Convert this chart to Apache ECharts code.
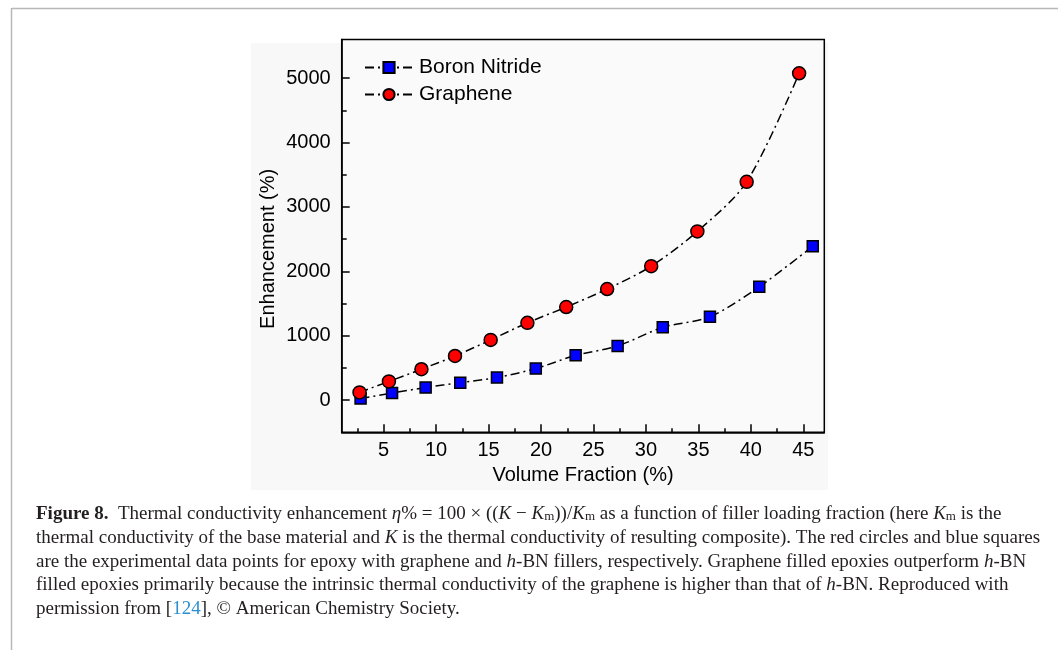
<!DOCTYPE html>
<html>
<head>
<meta charset="utf-8">
<script src="https://cdn.jsdelivr.net/npm/echarts@6.0.0/dist/echarts.min.js"></script>
<style>
  html, body { margin: 0; padding: 0; background: #fff; }
  #chart { width: 1058px; height: 650px; }
</style>
</head>
<body>
<div id="chart"></div>
<script>
// values
const volumeBN = [2.8, 5.8, 9.0, 12.3, 15.8, 19.5, 23.3, 27.3, 31.6, 36.1, 40.8, 45.9];
const enhanceBN = [25, 110, 195, 270, 350, 490, 695, 840, 1130, 1295, 1760, 2390];
const volumeGr = [2.7, 5.5, 8.6, 11.8, 15.2, 18.7, 22.4, 26.3, 30.5, 34.9, 39.6, 44.6];
const enhanceGr = [120, 290, 480, 685, 935, 1200, 1445, 1725, 2080, 2620, 3390, 5075];

const xMajor = [5, 10, 15, 20, 25, 30, 35, 40, 45];
const xMinor = [2.5, 7.5, 12.5, 17.5, 22.5, 27.5, 32.5, 37.5, 42.5];
const yMajor = [0, 1000, 2000, 3000, 4000, 5000];
const yMinor = [500, 1500, 2500, 3500, 4500];

const captionLines = [
  "{b|Figure 8.}  Thermal conductivity enhancement {i|η}% = 100 × (({i|K} − {i|K}{s|m}))/{i|K}{s|m} as a function of filler loading fraction (here {i|K}{s|m} is the",
  "thermal conductivity of the base material and {i|K} is the thermal conductivity of resulting composite). The red circles and blue squares",
  "are the experimental data points for epoxy with graphene and {i|h}-BN fillers, respectively. Graphene filled epoxies outperform {i|h}-BN",
  "filled epoxies primarily because the intrinsic thermal conductivity of the graphene is higher than that of {i|h}-BN. Reproduced with",
  "permission from [{l|124}], © American Chemistry Society.",
];

const sans = "'Liberation Sans', Arial, sans-serif";
const serif = "'Liberation Serif', 'Times New Roman', serif";
const dashDot = [9, 4, 2, 4];
const capSize = 19;

const chart = echarts.init(document.getElementById("chart"));

const serifRich = {
  b: { fontFamily: serif, fontSize: capSize, fontWeight: "bold", fill: "#231f20" },
  i: { fontFamily: serif, fontSize: capSize, fontStyle: "italic", fill: "#231f20" },
  s: { fontFamily: serif, fontSize: 13, fill: "#231f20", verticalAlign: "bottom" },
  l: { fontFamily: serif, fontSize: capSize, fill: "#2b8fd1" },
};

const frame = [
  { type: "line", shape: { x1: 12, y1: 8.5, x2: 1058, y2: 8.5 }, style: { stroke: "#b8b8b8", lineWidth: 1.5 } },
  { type: "line", shape: { x1: 11.5, y1: 8, x2: 11.5, y2: 650 }, style: { stroke: "#b8b8b8", lineWidth: 1.5 } },
  { type: "rect", shape: { x: 251, y: 43, width: 577, height: 447 }, style: { fill: "#f8f8f8" }, z: -10 },
];

const captions = captionLines.map((line, i) => ({
  type: "text",
  x: 36,
  y: 514 + i * 23.8,
  style: {
    text: line,
    fontFamily: serif,
    fontSize: capSize,
    fill: "#231f20",
    verticalAlign: "middle",
    rich: serifRich,
  },
}));

const axisText = { color: "#000", fontFamily: sans, fontSize: 20 };

chart.setOption({
  animation: false,
  graphic: [...frame, ...captions],
  grid: {
    left: 341.7,
    right: 233.7,
    top: 39.5,
    bottom: 217.7,
    show: true,
    borderColor: "#000",
    borderWidth: 1.5,
    backgroundColor: "#fafafa",
  },
  legend: {
    orient: "vertical",
    left: 364,
    top: 57,
    padding: 0,
    itemWidth: 48,
    itemHeight: 14,
    itemGap: 6,
    textStyle: { ...axisText, fontSize: 21, lineHeight: 21, padding: [0, 0, 0, 1] },
    data: ["Boron Nitride", "Graphene"],
  },
  xAxis: [
    {
      type: "value",
      min: 1,
      max: 47,
      position: "bottom",
      name: "Volume Fraction (%)",
      nameLocation: "middle",
      nameGap: 33,
      nameTextStyle: axisText,
      axisLine: { onZero: false, lineStyle: { color: "#000", width: 1.5 } },
      axisTick: { inside: true, length: 8, customValues: xMajor, lineStyle: { color: "#000", width: 1.5 } },
      axisLabel: { ...axisText, margin: 8, customValues: xMajor },
      splitLine: { show: false },
    },
    {
      type: "value",
      min: 1,
      max: 47,
      position: "bottom",
      axisLine: { show: false, onZero: false },
      axisTick: { inside: true, length: 4, customValues: xMinor, lineStyle: { color: "#000", width: 1.5 } },
      axisLabel: { show: false },
      splitLine: { show: false },
    },
  ],
  yAxis: [
    {
      type: "value",
      min: -500,
      max: 5600,
      position: "left",
      name: "Enhancement (%)",
      nameLocation: "middle",
      nameGap: 63,
      nameTextStyle: { ...axisText, padding: [0, 26, 0, 0] },
      axisLine: { show: true, onZero: false, lineStyle: { color: "#000", width: 1.5 } },
      axisTick: { show: true, inside: true, length: 8, customValues: yMajor, lineStyle: { color: "#000", width: 1.5 } },
      axisLabel: { ...axisText, margin: 11, customValues: yMajor, formatter: (v) => String(v) },
      splitLine: { show: false },
    },
    {
      type: "value",
      min: -500,
      max: 5600,
      position: "left",
      axisLine: { show: false, onZero: false },
      axisTick: { show: true, inside: true, length: 5, customValues: yMinor, lineStyle: { color: "#000", width: 1.5 } },
      axisLabel: { show: false },
      splitLine: { show: false },
    },
  ],
  series: [
    {
      name: "Boron Nitride",
      type: "line",
      data: volumeBN.map((v, i) => [v, enhanceBN[i]]),
      smooth: 0.3,
      symbol: "rect",
      symbolSize: 11,
      itemStyle: { color: "#0000ff", borderColor: "#000", borderWidth: 1.5 },
      lineStyle: { color: "#000", width: 1.5, type: dashDot },
      emphasis: { disabled: true },
    },
    {
      name: "Graphene",
      type: "line",
      data: volumeGr.map((v, i) => [v, enhanceGr[i]]),
      smooth: 0.3,
      symbol: "circle",
      symbolSize: 13,
      itemStyle: { color: "#ff0000", borderColor: "#000", borderWidth: 1.5 },
      lineStyle: { color: "#000", width: 1.5, type: dashDot },
      emphasis: { disabled: true },
    },
  ],
});
</script>
</body>
</html>
